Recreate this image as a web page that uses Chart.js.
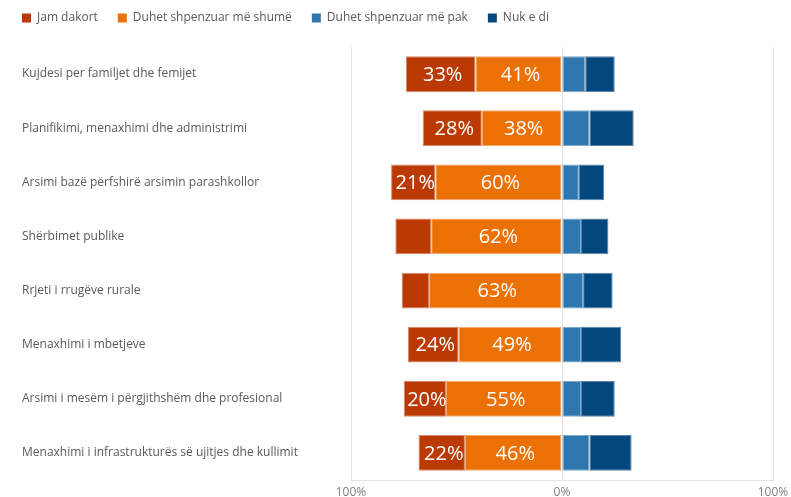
<!DOCTYPE html>
<html>
<head>
<meta charset="utf-8">
<script src="https://cdn.jsdelivr.net/npm/chart.js@4.4.0/dist/chart.umd.min.js"></script>
<style>
  html, body { margin: 0; padding: 0; background: #fff; }
  #wrap { width: 791px; height: 497px; }
</style>
</head>
<body>
<div id="wrap"><canvas id="myChart" width="791" height="497"></canvas></div>
<script>
// categories and answer shares (percent)
var categories = [
    'Kujdesi per familjet dhe femijet',
    'Planifikimi, menaxhimi dhe administrimi',
    'Arsimi bazë përfshirë arsimin parashkollor',
    'Shërbimet publike',
    'Rrjeti i rrugëve rurale',
    'Menaxhimi i mbetjeve',
    'Arsimi i mesëm i përgjithshëm dhe profesional',
    'Menaxhimi i infrastrukturës së ujitjes dhe kullimit'
];
var seriesNames = ['Jam dakort', 'Duhet shpenzuar më shumë', 'Duhet shpenzuar më pak', 'Nuk e di'];
var jamDakort  = [33, 28, 21, 17, 13, 24, 20, 22];
var meShume    = [41, 38, 60, 62, 63, 49, 55, 46];
var mePak      = [11, 13, 8, 9, 10, 9, 9, 13];
var nukEDi     = [14, 21, 12, 13, 14, 19, 16, 20];
var xTicks     = [-100, 0, 100];

var colors  = ['#BB3A03', '#EC7105', '#2E78AF', '#03477F'];
var borders = ['#D6896A', '#F2AA70', '#7FA9CC', '#5C84A8'];

function neg(arr) { return arr.map(function(v) { return -v; }); }

// white percent labels on the left-hand segments
var labelPlugin = {
    id: 'segLabels',
    afterDatasetsDraw: function(chart) {
        var ctx = chart.ctx;
        ctx.save();
        ctx.fillStyle = '#ffffff';
        ctx.font = '20px "Open Sans"';
        ctx.textAlign = 'center';
        ctx.textBaseline = 'middle';
        [0, 1].forEach(function(di) {
            var meta = chart.getDatasetMeta(di);
            var vals = chart.data.datasets[di].data;
            meta.data.forEach(function(bar, i) {
                var v = Math.abs(vals[i]);
                if (v < 18) return;
                var p = bar.getProps(['x', 'y', 'base'], true);
                ctx.fillText(v + '%', (p.x + p.base) / 2 + 2, p.y + 1);
            });
        });
        ctx.restore();
    }
};

// legend: push the plot area down and start the items at the left edge
var legendSpace = {
    id: 'legendSpace',
    beforeInit: function(chart) {
        var origFit = chart.legend.fit;
        chart.legend.fit = function() {
            origFit.bind(chart.legend)();
            this.height = 55;
        };
    },
    afterLayout: function(chart) {
        chart.legend.left = 2;
    }
};

var ctx = document.getElementById('myChart').getContext('2d');

var myChart = new Chart(ctx, {
    type: 'bar',
    data: {
        labels: categories,
        datasets: [
            { label: seriesNames[0], data: neg(jamDakort), backgroundColor: colors[0], borderColor: borders[0], order: 2 },
            { label: seriesNames[1], data: neg(meShume), backgroundColor: colors[1], borderColor: borders[1], order: 1 },
            { label: seriesNames[2], data: mePak, backgroundColor: colors[2], borderColor: borders[2], order: 1 },
            { label: seriesNames[3], data: nukEDi, backgroundColor: colors[3], borderColor: borders[3], order: 2 }
        ]
    },
    options: {
        indexAxis: 'y',
        responsive: false,
        animation: false,
        layout: { padding: { top: -8, left: 22, right: 18, bottom: 0 } },
        datasets: {
            bar: {
                categoryPercentage: 1,
                barPercentage: 0.66,
                borderWidth: 1,
                borderSkipped: false
            }
        },
        scales: {
            x: {
                stacked: true,
                min: -100,
                max: 100,
                afterBuildTicks: function(scale) {
                    scale.ticks = xTicks.map(function(v) { return { value: v }; });
                },
                afterFit: function(scale) {
                    scale.height = 17;
                    scale.paddingLeft = 0;
                    scale.paddingRight = 0;
                },
                ticks: {
                    padding: 5,
                    color: '#7F7F7F',
                    font: { family: 'Open Sans', size: 12 },
                    callback: function(v) { return Math.abs(v) + '%'; }
                },
                grid: { color: '#E6E6E6', drawTicks: false },
                border: { display: true, color: '#E6E6E6' }
            },
            y: {
                stacked: true,
                afterFit: function(scale) { scale.width = 329; },
                ticks: {
                    crossAlign: 'far',
                    color: '#595959',
                    font: { family: 'Open Sans', size: 12 }
                },
                grid: { display: false },
                border: { display: false }
            }
        },
        plugins: {
            tooltip: { enabled: false },
            legend: {
                position: 'top',
                align: 'start',
                labels: {
                    boxWidth: 9,
                    boxHeight: 9,
                    padding: 20,
                    color: '#595959',
                    font: { family: 'Open Sans', size: 12 },
                    generateLabels: function(chart) {
                        return chart.data.datasets.map(function(ds, i) {
                            return {
                                text: ds.label,
                                fillStyle: ds.backgroundColor,
                                strokeStyle: ds.backgroundColor,
                                lineWidth: 0,
                                fontColor: '#595959',
                                datasetIndex: i,
                                hidden: false
                            };
                        });
                    }
                }
            }
        }
    },
    plugins: [labelPlugin, legendSpace]
});
</script>
</body>
</html>
